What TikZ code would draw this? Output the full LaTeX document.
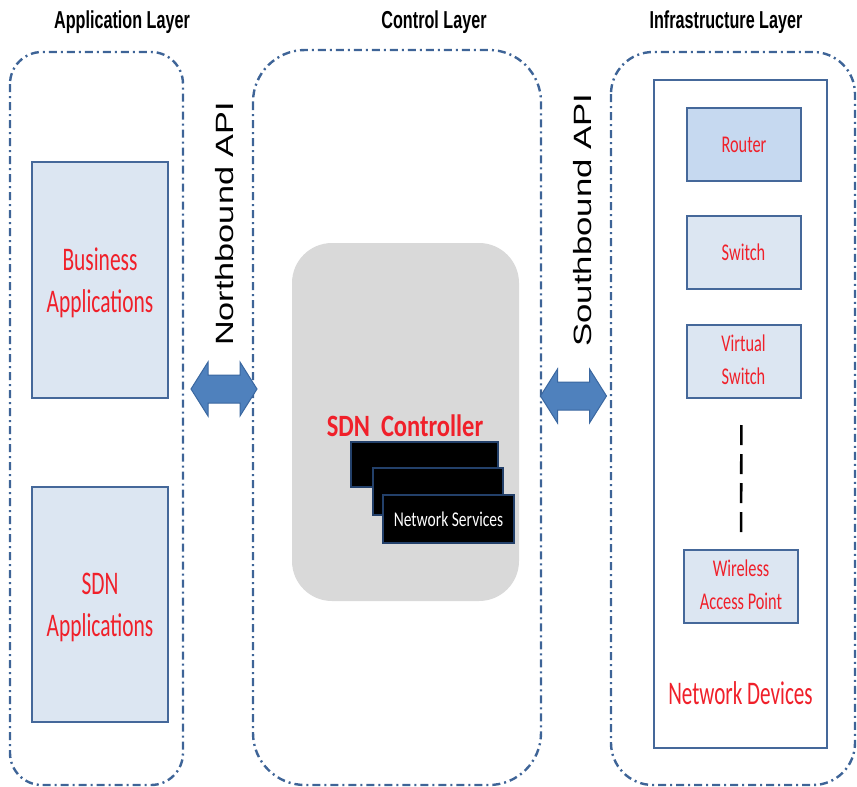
\documentclass[tikz,border=0pt]{standalone}
\usepackage{graphicx}
\usepackage{fontspec}
\setmainfont{Carlito}
\newfontfamily\arialf{Liberation Sans}
\definecolor{dashblue}{HTML}{3E6497}
\definecolor{boxblue}{HTML}{45689A}
\definecolor{lightfill}{HTML}{DCE6F2}
\definecolor{routerfill}{HTML}{C6D9F0}
\definecolor{arrowfill}{HTML}{4F81BD}
\definecolor{arrowdraw}{HTML}{3A67A0}
\definecolor{txtred}{HTML}{F0202A}
\definecolor{ctrlgray}{HTML}{D9D9D9}
\definecolor{navyedge}{HTML}{23406A}
\newcommand\sqz[2]{\scalebox{#1}[1]{#2}}
\newcommand\twol[2]{\begin{tabular}{@{}c@{}}#1\\#2\end{tabular}}
\begin{document}
\begin{tikzpicture}[x=1pt,y=-1pt,
  layerbox/.style={draw=dashblue, line width=2.4pt, dash pattern=on 8pt off 4pt on 2pt off 4pt},
  title/.style={font=\arialf\bfseries\fontsize{24.5}{28}\selectfont, text=black, inner sep=0pt},
  apitext/.style={rotate=90, font=\arialf\fontsize{25}{30}\selectfont, inner sep=0pt},
  appbox/.style={draw=boxblue, fill=lightfill, line width=2pt, text=txtred, inner sep=0pt,
    font=\fontsize{33}{42}\selectfont},
  devbox/.style={draw=boxblue, fill=lightfill, line width=2pt, text=txtred, inner sep=0pt,
    minimum width=114pt, minimum height=73pt, font=\fontsize{24}{33}\selectfont},
  blackbox/.style={draw=navyedge, fill=black, line width=1.6pt, inner sep=0pt},
  bigarrow/.style={fill=arrowfill, draw=arrowdraw, line width=1pt}
]
\useasboundingbox (0,0) rectangle (857,787);

% titles
\node[title] (tapp) at (122,22) {\sqz{0.66}{Application Layer}};
\node[title] (tctl) at (434,22) {\sqz{0.66}{Control Layer}};
\node[title] (tinf) at (726,22) {\sqz{0.66}{Infrastructure Layer}};

% layer boxes
\draw[layerbox, rounded corners=32pt] (10,52) rectangle (183,785);
\draw[layerbox, rounded corners=52pt] (253,50) rectangle (541,785);
\draw[layerbox, rounded corners=42pt] (611,52) rectangle (855,785);

% application layer
\node[appbox, minimum width=136pt, minimum height=236pt] (biz) at (100,280) {};
\node[text=txtred, font=\fontsize{33}{42}\selectfont, inner sep=0pt] (biztxt) at (100,283)
  {\sqz{0.65}{\twol{Business}{Applications}}};
\node[appbox, minimum width=136pt, minimum height=235pt] (sdnapp) at (100,604.5) {};
\node[text=txtred, font=\fontsize{33}{42}\selectfont, inner sep=0pt] (sdntxt) at (100,607)
  {\sqz{0.65}{\twol{SDN}{Applications}}};

% API labels
\node[apitext] (nb) at (225,224) {\sqz{1.37}{Northbound API}};
\node[apitext] (sb) at (583,220) {\sqz{1.39}{Southbound API}};

% double arrows
\coordinate (la) at (224,389);
\coordinate (ra) at (573.5,396);
\foreach \c in {la,ra}{
  \draw[bigarrow] ([xshift=-33pt]\c) -- ([xshift=-16pt,yshift=-27pt]\c) -- ([xshift=-16pt,yshift=-14pt]\c)
    -- ([xshift=16pt,yshift=-14pt]\c) -- ([xshift=16pt,yshift=-27pt]\c) -- ([xshift=33pt]\c)
    -- ([xshift=16pt,yshift=27pt]\c) -- ([xshift=16pt,yshift=14pt]\c) -- ([xshift=-16pt,yshift=14pt]\c)
    -- ([xshift=-16pt,yshift=27pt]\c) -- cycle;
}

% control layer
\node[fill=ctrlgray, rounded corners=40pt, minimum width=227pt, minimum height=358pt, inner sep=0pt] (ctrl) at (405.5,422) {};
\node[text=txtred, font=\bfseries\fontsize{31}{36}\selectfont, inner sep=0pt] (sdnc) at (405,426)
  {\sqz{0.79}{SDN\ \ Controller}};
\node[blackbox, minimum width=147pt, minimum height=45pt] (bk1) at (424.5,464.5) {};
\node[blackbox, minimum width=130pt, minimum height=47pt] (bk2) at (438,491.5) {};
\node[blackbox, minimum width=131pt, minimum height=48pt, text=white,
  font=\fontsize{21}{24}\selectfont] (bk3) at (448.5,519) {\sqz{0.74}{Network Services}};

% infrastructure layer
\node[draw=boxblue, fill=white, line width=2pt, minimum width=173pt, minimum height=668pt, inner sep=0pt] (devs) at (740.5,414) {};
\node[devbox, fill=routerfill] (router) at (744,144.5) {\sqz{0.68}{Router}};
\node[devbox] (switch) at (743.5,252.5) {\sqz{0.68}{Switch}};
\node[devbox] (vswitch) at (743.5,361.5) {\raisebox{-2pt}{\sqz{0.68}{\twol{Virtual}{Switch}}}};
\node[devbox, minimum height=73pt] (wap) at (741,586.5) {\raisebox{-2pt}{\sqz{0.68}{\twol{Wireless}{Access Point}}}};
\draw[black, line width=2.6pt, dash pattern=on 20pt off 9pt, shorten <=26pt, shorten >=17pt]
  ([xshift=-2pt]vswitch.south) -- (wap.north);
\node[text=txtred, font=\fontsize{33}{37}\selectfont, inner sep=0pt] (netdev) at (740.5,693)
  {\sqz{0.64}{Network Devices}};
\end{tikzpicture}
\end{document}
